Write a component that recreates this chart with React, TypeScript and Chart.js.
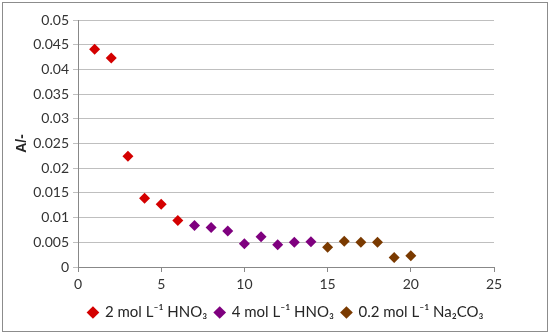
import React, { useEffect, useRef } from "react";
import { Chart, registerables } from "chart.js";
Chart.register(...registerables);

const seriesLabels = ["2 mol L⁻¹ HNO₃", "4 mol L⁻¹ HNO₃", "0.2 mol L⁻¹ Na₂CO₃"];
const seriesColors = ["#D40000", "#7F007F", "#7A3A00"];
const xA = [1, 2, 3, 4, 5, 6];
const yA = [0.0441, 0.0423, 0.0224, 0.0139, 0.0127, 0.0094];
const xB = [7, 8, 9, 10, 11, 12, 13, 14];
const yB = [0.0084, 0.008, 0.0073, 0.0047, 0.0061, 0.0045, 0.005, 0.0051];
const xC = [15, 16, 17, 18, 19, 20];
const yC = [0.004, 0.0052, 0.005, 0.005, 0.0019, 0.0023];
const yTitle = "A/-";

const borderPlugin = {
  id: "outerBorder",
  afterLayout(chart: any) {
    const lg = chart.legend;
    if (lg && lg.lineWidths && lg.lineWidths.length) {
      const pad = lg.options.labels.padding;
      const lw = lg.lineWidths[0];
      const current = (lg.left + pad + lg.right - lw) / 2;
      const desired = (chart.chartArea.left + chart.chartArea.right - lw) / 2 + pad / 2;
      const shift = desired - current;
      lg.left += shift;
      lg.right += shift;
    }
  },
  afterDraw(chart: any) {
    const ctx = chart.ctx;
    ctx.save();
    ctx.strokeStyle = "#8c8c8c";
    ctx.lineWidth = 1;
    ctx.strokeRect(2.5, 2.5, 545, 329);
    ctx.restore();
  },
};

export default function App() {
  const ref = useRef<HTMLCanvasElement>(null);
  useEffect(() => {
    const mk = (xs: number[], ys: number[]) => xs.map((x, i) => ({ x, y: ys[i] }));
    const data = [mk(xA, yA), mk(xB, yB), mk(xC, yC)];
    const font = { family: "Lato, 'Liberation Sans', sans-serif", size: 14 };
    const chart = new Chart(ref.current!, {
      type: "scatter",
      data: {
        datasets: data.map((d, i) => ({
          label: seriesLabels[i],
          data: d,
          backgroundColor: seriesColors[i],
          borderColor: seriesColors[i],
          pointStyle: "rectRot",
          pointRadius: 5.5,
          borderWidth: 0,
        })),
      },
      options: {
        animation: false,
        responsive: false,
        layout: { padding: { left: 0, right: 56, top: 20, bottom: 4 } },
        plugins: {
          tooltip: { enabled: false },
          legend: {
            position: "bottom",
            labels: {
              usePointStyle: true,
              boxWidth: 9,
              boxHeight: 9,
              padding: 8,
              color: "#262626",
              font: { ...font, size: 15 },
            },
          },
        },
        scales: {
          x: {
            type: "linear",
            min: 0,
            max: 25,
            ticks: { stepSize: 5, color: "#333333", font, padding: 4 },
            grid: { drawOnChartArea: false, tickLength: 5, color: "#888888" },
            border: { color: "#888888" },
            afterFit: (s: any) => { s.height = 30; },
          },
          y: {
            min: 0,
            max: 0.05,
            ticks: {
              stepSize: 0.005,
              color: "#333333",
              font,
              padding: 4,
              callback: (v: any) => String(+Number(v).toFixed(3)),
            },
            grid: { color: "#bfbfbf", tickLength: 5 },
            border: { color: "#888888" },
            title: {
              display: true,
              text: yTitle,
              color: "#262626",
              font: { family: "'Liberation Sans', Arial, sans-serif", size: 14, weight: "bold" },
              padding: { top: 14, bottom: 0 },
            },
            afterFit: (s: any) => { s.width = 78; },
          },
        },
      },
      plugins: [borderPlugin],
    });
    return () => chart.destroy();
  }, []);
  return (
    <div style={{ position: "fixed", left: 0, top: 0, width: 550, height: 334, background: "#fff" }}>
      <canvas ref={ref} width={550} height={334} />
    </div>
  );
}
